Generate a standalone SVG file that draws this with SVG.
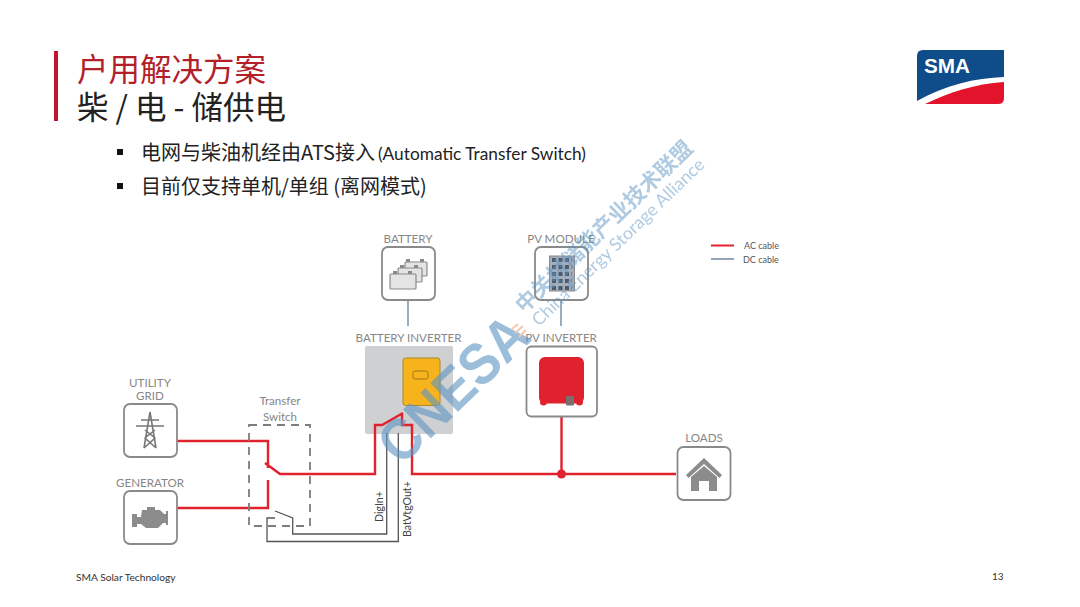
<svg xmlns="http://www.w3.org/2000/svg" width="1080" height="607" viewBox="0 0 1080 607">
<style>
.lb{font-family:"Lato","Liberation Sans",sans-serif;fill:#868686;font-size:11.6px;text-anchor:middle}
.cn{font-family:"Noto Sans CJK SC","Lato",sans-serif}
.box{fill:#fff;stroke:#8a8a8a;stroke-width:1.8}
.ac{fill:none;stroke:#e0222f;stroke-width:2.4;stroke-linejoin:miter}
.dc{fill:none;stroke:#93a3bb;stroke-width:1.8}
.ctl{fill:none;stroke:#555;stroke-width:1.3}
.ic{fill:#8c8c8c}
.wm{fill:#5f97c4}
</style>
<rect width="1080" height="607" fill="#fff"/>
<g id="header">
<rect x="54" y="51" width="4" height="70" fill="#c4122f"/>
<text class="cn" x="77" y="81" font-size="31.5" fill="#b3202a">户用解决方案</text>
<text class="cn" x="77" y="119" font-size="31.5" fill="#222">柴 / 电 - 储供电</text>
<rect x="117" y="149" width="6" height="6" fill="#111"/>
<text class="cn" x="141" y="160" font-size="20" fill="#222">电网与柴油机经由ATS接入</text>
<text x="378" y="160" font-family="Lato,Liberation Sans,sans-serif" font-size="18" fill="#222" textLength="208" lengthAdjust="spacingAndGlyphs">(Automatic Transfer Switch)</text>
<rect x="117" y="183" width="6" height="6" fill="#111"/>
<text class="cn" x="141" y="194" font-size="20" fill="#222">目前仅支持单机/单组 (离网模式)</text>
</g>
<g id="logo">
<path d="M923 50H1004V77C975 78 945 85 917 101V56Q917 50 923 50Z" fill="#0f4c8a"/>
<path d="M925 104C950 92 975 84 1004 82V98Q1004 104 998 104Z" fill="#e2132b"/>
<text x="924" y="73" font-family="Liberation Sans,sans-serif" font-weight="700" font-size="21" fill="#fff" textLength="46" lengthAdjust="spacingAndGlyphs">SMA</text>
</g>
<g id="legend">
<line x1="711" y1="245.5" x2="734" y2="245.5" stroke="#e0222f" stroke-width="2"/>
<line x1="711" y1="259" x2="734" y2="259" stroke="#93a3bb" stroke-width="2"/>
<text class="lb" x="744" y="249" style="text-anchor:start;font-size:9px;fill:#555">AC cable</text>
<text class="lb" x="743" y="262.500" style="text-anchor:start;font-size:9px;fill:#555">DC cable</text>
</g>
<g id="connectors">
<path class="dc" d="M408 300V326M561 300V326"/>
</g>
<g id="battery-inverter">
<text class="lb" x="408.500" y="342">BATTERY INVERTER</text>
<rect x="365" y="346" width="88" height="88" rx="2" fill="#cfd0d2"/>
<rect x="403" y="358" width="37" height="47.500" rx="2.500" fill="#f7b31c" stroke="#a88a2c"/>
<rect x="413" y="371" width="15" height="8" rx="2" fill="none" stroke="#a0791c"/>
</g>
<g id="connectors-main">
<path class="ac" d="M177 441H268V468M265 463L280 474H375V425H382L403 413M402 414V425H412V474H676"/>
<path class="ac" d="M177 508H268V480"/>
<path class="ac" d="M561.500 417V474"/>
<circle cx="561.500" cy="474" r="4.500" fill="#e0222f"/>
<path class="ctl" d="M275 518H267V541.500H398.300V433M275 511L292.700 518V534H386.700V433"/>
<rect x="249" y="425" width="61" height="101" fill="none" stroke="#7c7c7c" stroke-width="1.800" stroke-dasharray="8 6"/>
</g>
<g id="battery">
<text class="lb" x="408" y="243">BATTERY</text>
<rect class="box" x="382" y="247" width="53" height="53" rx="6"/>
<g fill="#e4e4e4" stroke="#8a8a8a" stroke-width="1.200">
<rect x="405" y="262" width="22" height="14" rx="1"/><rect x="398" y="268" width="24" height="14" rx="1"/><rect x="390" y="274" width="26" height="15" rx="1"/>
</g>
<path d="M406 262v-3h4v3M420 262v-3h4v3M400 268v-3h4v3M414 268v-3h4v3M393 274v-3h4v3M408 274v-3h4v3" fill="#8a8a8a"/>
</g>
<g id="pv-module">
<text class="lb" x="561" y="243">PV MODULE</text>
<rect class="box" x="535" y="247" width="53" height="53" rx="6"/>
<rect x="549.500" y="256" width="25" height="35" fill="#a3adbb" stroke="#8a8a8a"/>
<path d="M552 260h20M552 267h20M552 274h20M552 281h20M552 288h20" stroke="#4d5a6b" stroke-width="4" stroke-dasharray="4 2.500" fill="none"/>
</g>
<g id="pv-inverter">
<text class="lb" x="561" y="342">PV INVERTER</text>
<rect class="box" x="526.500" y="346.500" width="70.500" height="70" rx="5"/>
<rect x="539" y="357" width="45" height="46.500" rx="6" fill="#e0222f"/>
<circle cx="543.500" cy="402" r="3.500" fill="#e0222f"/>
<circle cx="579.500" cy="402" r="3.500" fill="#e0222f"/>
<rect x="566" y="396" width="8" height="9.500" rx="1" fill="#77706f"/>
</g>
<g id="utility-grid">
<text class="lb" x="150" y="387">UTILITY</text>
<text class="lb" x="150" y="400">GRID</text>
<rect class="box" x="124" y="404" width="53" height="53" rx="6"/>
<path d="M150 412L144 448M150 412L156 448M136 426H164M141 420H159M145 430L155 438L144 448M155 430L145 438L156 448" fill="none" stroke="#777" stroke-width="1.600"/>
</g>
<g id="generator">
<text class="lb" x="150" y="487">GENERATOR</text>
<rect class="box" x="124" y="491" width="53" height="53" rx="6"/>
<path class="ic" d="M142 510H147V507H155V510H160L164 514H166V511H168V525H166V523H163L158 528H146L141 524H137V527H132V514H137V517H141Z"/>
</g>
<g id="loads">
<text class="lb" x="704" y="442">LOADS</text>
<rect class="box" x="677.500" y="447" width="53" height="53" rx="6"/>
<path class="ic" d="M704 458L722 475L719.500 478L704 464L688.500 478L686 475ZM691 477L704 466L717 477V491H709V481H699V491H691Z"/>
</g>
<g id="transfer-switch-label">
<text class="lb" x="280" y="405">Transfer</text>
<text class="lb" x="280" y="421">Switch</text>
</g>
<g id="cable-labels">
<text class="lb" transform="translate(383 522) rotate(-90)" style="text-anchor:start;font-size:10.6px;fill:#444">DigIn+</text>
<text class="lb" transform="translate(411 537) rotate(-90)" style="text-anchor:start;font-size:10.6px;fill:#444">BatVtgOut+</text>
</g>
<g id="footer">
<text x="76" y="581" font-family="Lato,Liberation Sans,sans-serif" font-size="10.200" fill="#333">SMA Solar Technology</text>
<text x="992" y="580" font-family="Lato,Liberation Sans,sans-serif" font-size="10" fill="#333">13</text>
</g>
<g id="watermark" opacity="0.62">
<text class="wm" transform="translate(401 467) rotate(-44)" font-family="Liberation Sans,sans-serif" font-weight="700" font-size="58" textLength="184" lengthAdjust="spacingAndGlyphs">CNESA</text>
<path d="M512 329L518 324M515 333L523 326M519 337L526 330" stroke="#f0a37c" stroke-width="2" fill="none"/>
<text class="cn wm" transform="translate(524 314) rotate(-44)" font-size="21.500" font-weight="700" opacity=".8">中关村储能产业技术联盟</text>
<text class="wm" transform="translate(539 327) rotate(-44)" font-family="Lato,Liberation Sans,sans-serif" font-size="17.800" opacity=".8">China Energy Storage Alliance</text>
</g>
</svg>
